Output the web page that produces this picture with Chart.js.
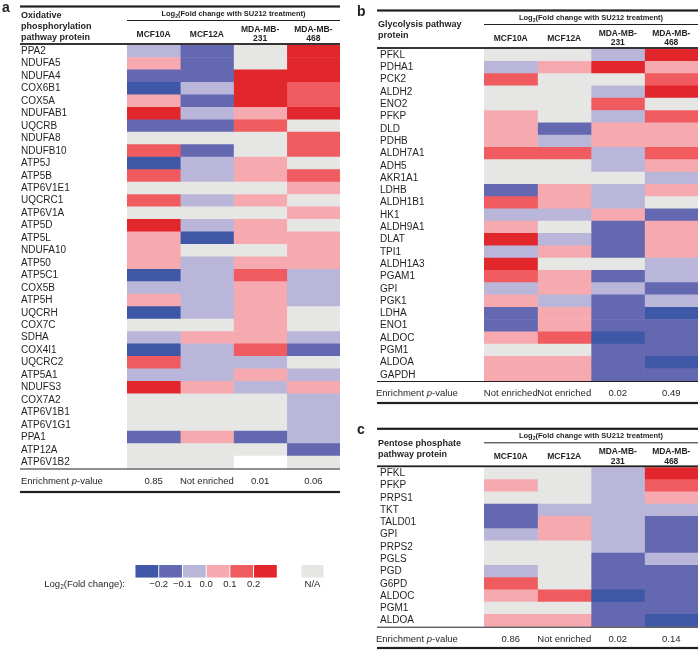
<!DOCTYPE html>
<html>
<head>
<meta charset="utf-8">
<script src="https://cdn.jsdelivr.net/npm/chart.js@4.4.1/dist/chart.umd.min.js"></script>
<style>
  html, body { margin: 0; padding: 0; background: #fff; }
  body { width: 698px; height: 650px; position: relative; overflow: hidden; }
  canvas { position: absolute; }
</style>
</head>
<body>
<canvas id="panelA" width="345" height="500" style="left:0;top:0"></canvas>
<canvas id="panelB" width="343" height="410" style="left:355px;top:0"></canvas>
<canvas id="panelC" width="343" height="236" style="left:355px;top:415px"></canvas>
<canvas id="legendKey" width="310" height="45" style="left:30px;top:550px"></canvas>
<script>
// log2 fold change per protein, one array per cell line
// null = N/A (grey), NaN = no cell drawn (white)
const cellLines = ['MCF10A', 'MCF12A', ['MDA-MB-', '231'], ['MDA-MB-', '468']];

const aProteins = ['PPA2', 'NDUFA5', 'NDUFA4', 'COX6B1', 'COX5A', 'NDUFAB1', 'UQCRB', 'NDUFA8', 'NDUFB10', 'ATP5J',
  'ATP5B', 'ATP6V1E1', 'UQCRC1', 'ATP6V1A', 'ATP5D', 'ATP5L', 'NDUFA10', 'ATP50', 'ATP5C1', 'COX5B', 'ATP5H', 'UQCRH',
  'COX7C', 'SDHA', 'COX4I1', 'UQCRC2', 'ATP5A1', 'NDUFS3', 'COX7A2', 'ATP6V1B1', 'ATP6V1G1', 'PPA1', 'ATP12A', 'ATP6V1B2'];
const aMCF10A = [-0.05, 0.05, -0.15, -0.25, 0.05, 0.25, -0.15, null, 0.15, -0.25, 0.15, null, 0.15, null, 0.25, 0.05, 0.05,
  0.05, -0.25, -0.05, 0.05, -0.25, null, -0.05, -0.25, 0.15, -0.05, 0.25, null, null, null, -0.15, null, null];
const aMCF12A = [-0.15, -0.15, -0.15, -0.05, -0.15, -0.05, -0.15, null, -0.15, -0.05, -0.05, null, -0.05, null, -0.05, -0.25,
  null, -0.05, -0.05, -0.05, -0.05, -0.05, null, 0.05, -0.05, -0.05, -0.05, 0.05, null, null, null, 0.05, null, null];
const aMDA231 = [null, null, 0.25, 0.25, 0.25, 0.05, 0.15, null, null, 0.05, 0.05, null, 0.05, null, 0.05, 0.05, null, 0.05,
  0.15, 0.05, 0.05, 0.05, 0.05, 0.05, 0.15, -0.05, 0.05, -0.05, null, null, null, -0.15, null, NaN];
const aMDA468 = [0.25, 0.25, 0.25, 0.15, 0.15, 0.25, null, 0.15, 0.15, null, 0.15, 0.05, null, 0.05, null, 0.05, 0.05, 0.05,
  -0.05, -0.05, -0.05, null, null, -0.05, -0.15, null, -0.05, 0.05, -0.05, -0.05, -0.05, -0.05, -0.15, null];
const aPValues = ['0.85', 'Not enriched', '0.01', '0.06'];

const bProteins = ['PFKL', 'PDHA1', 'PCK2', 'ALDH2', 'ENO2', 'PFKP', 'DLD', 'PDHB', 'ALDH7A1', 'ADH5', 'AKR1A1', 'LDHB',
  'ALDH1B1', 'HK1', 'ALDH9A1', 'DLAT', 'TPI1', 'ALDH1A3', 'PGAM1', 'GPI', 'PGK1', 'LDHA', 'ENO1', 'ALDOC', 'PGM1', 'ALDOA', 'GAPDH'];
const bMCF10A = [null, -0.05, 0.15, null, null, 0.05, 0.05, 0.05, 0.15, null, null, -0.15, 0.15, -0.05, 0.05, 0.25, -0.05,
  0.25, 0.15, -0.05, 0.05, -0.15, -0.15, 0.05, null, 0.05, 0.05];
const bMCF12A = [null, 0.05, null, null, null, null, -0.15, -0.05, 0.15, null, null, 0.05, 0.05, -0.05, null, -0.05, 0.05,
  null, 0.05, 0.05, -0.05, 0.05, 0.05, 0.15, null, 0.05, 0.05];
const bMDA231 = [-0.05, 0.25, null, -0.05, 0.15, -0.05, 0.05, 0.05, -0.05, -0.05, null, -0.05, -0.05, 0.05, -0.15, -0.15,
  -0.15, null, -0.15, -0.05, -0.15, -0.15, -0.15, -0.25, -0.15, -0.15, -0.15];
const bMDA468 = [0.25, 0.05, 0.15, 0.25, null, 0.15, 0.05, 0.05, 0.15, 0.05, -0.05, 0.05, null, -0.15, 0.05, 0.05, 0.05,
  -0.05, -0.05, -0.15, -0.05, -0.25, -0.15, -0.15, -0.15, -0.25, -0.15];
const bPValues = ['Not enriched', 'Not enriched', '0.02', '0.49'];

const cProteins = ['PFKL', 'PFKP', 'PRPS1', 'TKT', 'TALD01', 'GPI', 'PRPS2', 'PGLS', 'PGD', 'G6PD', 'ALDOC', 'PGM1', 'ALDOA'];
const cMCF10A = [null, 0.05, null, -0.15, -0.15, -0.05, null, null, -0.05, 0.15, 0.05, null, 0.05];
const cMCF12A = [null, null, null, -0.05, 0.05, 0.05, null, null, null, null, 0.15, null, 0.05];
const cMDA231 = [-0.05, -0.05, -0.05, -0.05, -0.05, -0.05, -0.05, -0.15, -0.15, -0.15, -0.25, -0.15, -0.15];
const cMDA468 = [0.25, 0.15, 0.05, -0.05, -0.15, -0.15, -0.15, -0.05, -0.15, -0.15, -0.15, -0.15, -0.25];
const cPValues = ['0.86', 'Not enriched', '0.02', '0.14'];

// colour key
const binEdges = [-0.2, -0.1, 0, 0.1, 0.2];
const keyEdges = [-0.3, -0.2, -0.1, 0, 0.1, 0.2, 0.3];
const keyNA = [0.4, 0.497];

const FONT = '"Liberation Sans", Arial, Helvetica, sans-serif';
const TEXT = '#231f20';
const BIN_COLORS = ['#3f57a7', '#6468b1', '#b9b6da', '#f6aab0', '#ef5b5f', '#e1272c'];
const NA_COLOR = '#e6e6e5';

Chart.defaults.font.family = FONT;
Chart.defaults.color = TEXT;

function cellColor(v) {
  if (v === null) return NA_COLOR;
  if (Number.isNaN(v)) return '#ffffff';
  return BIN_COLORS[binEdges.filter(e => v >= e).length];
}

function hline(ctx, x0, x1, y, w) {
  ctx.fillRect(x0, y - w / 2, x1 - x0, w);
}

// "Log" + subscript 2 + rest
function drawLog2(ctx, x, y, rest, size, weight, align) {
  const big = `${weight} ${size}px ${FONT}`;
  const small = `${weight} ${size * 0.68}px ${FONT}`;
  ctx.font = big;
  const w1 = ctx.measureText('Log').width;
  const w3 = ctx.measureText(rest).width;
  ctx.font = small;
  const w2 = ctx.measureText('2').width;
  const total = w1 + w2 + w3;
  let sx = x;
  if (align === 'center') sx = x - total / 2;
  if (align === 'right') sx = x - total;
  ctx.textAlign = 'left';
  ctx.font = big;
  ctx.fillText('Log', sx, y);
  ctx.font = small;
  ctx.fillText('2', sx + w1, y + size * 0.3);
  ctx.font = big;
  ctx.fillText(rest, sx + w1 + w2, y);
}

const panelPlugin = {
  id: 'panel',
  afterDraw(chart, args, p) {
    const { ctx, chartArea: a } = chart;
    const L = p.ruleLeft;
    ctx.save();
    ctx.fillStyle = TEXT;
    ctx.textBaseline = 'alphabetic';
    ctx.textAlign = 'left';
    ctx.font = `bold 14px ${FONT}`;
    ctx.fillText(p.letter, 2, a.top - 33);

    hline(ctx, L, a.right, a.top - 38.5, 2.2);
    ctx.textBaseline = 'middle';
    drawLog2(ctx, (a.left + a.right) / 2, a.top - 31, '(Fold change with SU212 treatment)', 7.5, 'bold', 'center');
    hline(ctx, a.left, a.right, a.top - 24.5, 1);

    ctx.font = `bold 9px ${FONT}`;
    ctx.textAlign = 'left';
    p.header.forEach((t, i) => ctx.fillText(t, L + 1, a.top + p.headerY + i * 10.8));
    hline(ctx, L, a.right, a.top - 1, 1.8);

    hline(ctx, L, a.right, a.bottom + 0.5, 1);
    // Enrichment p-value
    const y = a.bottom + 12.5;
    let x = p.pLeft;
    ctx.font = `9.5px ${FONT}`;
    ctx.fillText('Enrichment ', x, y);
    x += ctx.measureText('Enrichment ').width;
    ctx.font = `italic 9.5px ${FONT}`;
    ctx.fillText('p', x, y);
    x += ctx.measureText('p').width;
    ctx.font = `9.5px ${FONT}`;
    ctx.fillText('-value', x, y);
    hline(ctx, L, a.right, a.bottom + p.bottomRule, 2.2);
    ctx.restore();
  }
};

function heatmap(id, o) {
  return new Chart(document.getElementById(id), {
    type: 'bar',
    data: {
      labels: o.proteins,
      datasets: o.columns.map((vals, c) => ({
        data: vals.map(() => [c, c + 1]),
        backgroundColor: vals.map(cellColor),
        borderWidth: 0,
        barPercentage: 1,
        categoryPercentage: 1,
        grouped: false,
        xAxisID: 'x',
        yAxisID: 'y'
      }))
    },
    options: {
      indexAxis: 'y',
      responsive: false,
      animation: false,
      events: [],
      layout: { padding: { left: o.labelLeft, right: o.padRight, top: 0, bottom: 0 } },
      plugins: {
        legend: { display: false },
        tooltip: { enabled: false },
        panel: {
          letter: o.letter, header: o.header, headerY: o.headerY,
          ruleLeft: o.ruleLeft, pLeft: o.pLeft, bottomRule: o.bottomRule
        }
      },
      scales: {
        x: { type: 'linear', min: 0, max: 4, display: false },
        y: {
          type: 'category',
          grid: { display: false },
          border: { display: false },
          ticks: { autoSkip: false, crossAlign: 'far', padding: 0, font: { size: 10 } },
          afterFit: s => { s.width = o.cellLeft - o.labelLeft; }
        },
        xTop: {
          type: 'category',
          axis: 'x',
          position: 'top',
          labels: cellLines,
          offset: true,
          grid: { display: false, drawTicks: false },
          border: { display: false },
          ticks: { crossAlign: 'center', padding: 6, autoSkip: false, maxRotation: 0,
                   font: { size: 8.5, weight: 'bold', lineHeight: 1.1 } },
          afterFit: s => { s.height = o.cellTop; }
        },
        xBot: {
          type: 'category',
          axis: 'x',
          position: 'bottom',
          labels: o.pValues,
          offset: true,
          grid: { display: false, drawTicks: false },
          border: { display: false },
          ticks: { padding: 6.8, autoSkip: false, maxRotation: 0, font: { size: 9.5 } },
          afterFit: s => { s.height = o.height - o.cellBottom; }
        }
      }
    },
    plugins: [panelPlugin]
  });
}

heatmap('panelA', {
  letter: 'a', proteins: aProteins, columns: [aMCF10A, aMCF12A, aMDA231, aMDA468], pValues: aPValues,
  header: ['Oxidative', 'phosphorylation', 'pathway protein'], headerY: -29.3,
  labelLeft: 21, ruleLeft: 20, pLeft: 21, cellLeft: 127, padRight: 5,
  cellTop: 45, cellBottom: 468.5, height: 500, bottomRule: 23.5
});

heatmap('panelB', {
  letter: 'b', proteins: bProteins, columns: [bMCF10A, bMCF12A, bMDA231, bMDA468], pValues: bPValues,
  header: ['Glycolysis pathway', 'protein'], headerY: -24.3,
  labelLeft: 25, ruleLeft: 22, pLeft: 21, cellLeft: 129, padRight: 0,
  cellTop: 49, cellBottom: 381, height: 410, bottomRule: 22
});

heatmap('panelC', {
  letter: 'c', proteins: cProteins, columns: [cMCF10A, cMCF12A, cMDA231, cMDA468], pValues: cPValues,
  header: ['Pentose phosphate', 'pathway protein'], headerY: -24,
  labelLeft: 25, ruleLeft: 22, pLeft: 21, cellLeft: 129, padRight: 0,
  cellTop: 52.3, cellBottom: 211.7, height: 236, bottomRule: 21.3
});

// colour key
const keyLabelPlugin = {
  id: 'keyLabel',
  afterDraw(chart) {
    const { ctx, chartArea: a } = chart;
    ctx.save();
    ctx.fillStyle = TEXT;
    ctx.textBaseline = 'middle';
    drawLog2(ctx, a.left - 10, a.bottom + 6.6, '(Fold change):', 9.5, 'normal', 'right');
    ctx.restore();
  }
};

const keyDatasets = BIN_COLORS.map((c, i) => ({
  data: [[keyEdges[i], keyEdges[i + 1]]],
  backgroundColor: c
})).concat([{ data: [keyNA], backgroundColor: NA_COLOR }]);

new Chart(document.getElementById('legendKey'), {
  type: 'bar',
  data: {
    labels: [''],
    datasets: keyDatasets.map(d => Object.assign(d, {
      borderColor: '#ffffff',
      borderWidth: { left: 0.8, right: 0.8, top: 0, bottom: 0 },
      borderSkipped: false,
      barPercentage: 1,
      categoryPercentage: 1,
      grouped: false
    }))
  },
  options: {
    indexAxis: 'y',
    responsive: false,
    animation: false,
    events: [],
    layout: { padding: { left: 105, right: 16, top: 15, bottom: 0 } },
    plugins: { legend: { display: false }, tooltip: { enabled: false } },
    scales: {
      x: {
        type: 'linear',
        min: keyEdges[0],
        max: keyNA[1],
        grid: { display: false, drawTicks: false },
        border: { display: false },
        afterBuildTicks: s => {
          s.ticks = binEdges.concat([(keyNA[0] + keyNA[1]) / 2]).map(v => ({ value: v }));
        },
        ticks: {
          padding: 1,
          autoSkip: false,
          maxRotation: 0,
          font: { size: 9.5 },
          callback: v => v > keyEdges[6] ? 'N/A' : (v < -1e-9 ? '\u2212' : '') + Math.abs(v).toFixed(1)
        },
        afterFit: s => { s.height = 17.3; }
      },
      y: { display: false }
    }
  },
  plugins: [keyLabelPlugin]
});
</script>
</body>
</html>
